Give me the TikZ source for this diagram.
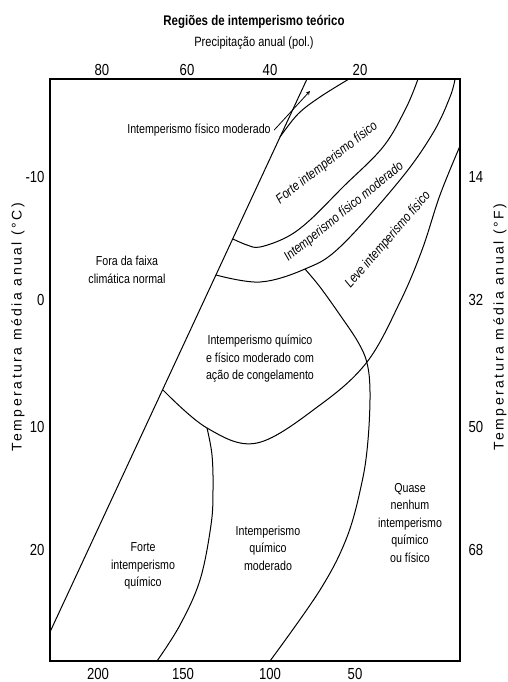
\documentclass[tikz,border=0pt]{standalone}
\usepackage{fontspec}
\setmainfont{Liberation Sans}[FakeStretch=0.82]
\newfontfamily\axisfont{Liberation Sans}[LetterSpace=18]
\usepackage{tikz}

\tikzset{
  region/.style={align=center, font=\fontsize{13}{17.5}\selectfont},
  band/.style={font=\fontsize{13.5}{15}\selectfont\itshape},
  tick/.style={font=\fontsize{16}{18}\selectfont},
  axislabel/.style={rotate=90, font=\axisfont\fontsize{14}{16}\selectfont},
  curve/.style={line width=1pt},
}

\begin{document}
\begin{tikzpicture}[x=1pt,y=-1pt]
  \useasboundingbox (0,0) rectangle (507,682);

  % --- Titles ---
  \node[font=\fontsize{14}{16}\selectfont\bfseries, anchor=base] (title) at (254,26) {Regiões de intemperismo teórico};
  \node[font=\fontsize{13.5}{16}\selectfont, anchor=base] (precip) at (254,47) {Precipitação anual (pol.)};

  % --- Frame ---
  \draw[line width=1.6pt] (50,79) rectangle (460,661);

  % --- Tick labels (top and bottom) ---
  \node[tick, anchor=base] (p80) at (102,76) {80};
  \node[tick, anchor=base] (p60) at (187,76) {60};
  \node[tick, anchor=base] (p40) at (270,76) {40};
  \node[tick, anchor=base] (p20) at (360,76) {20};
  \node[tick, anchor=base] (p200) at (98,679) {200};
  \node[tick, anchor=base] (p150) at (183,679) {150};
  \node[tick, anchor=base] (p100) at (270,679) {100};
  \node[tick, anchor=base] (p50) at (355,679) {50};

  % --- Tick labels (left and right) ---
  \node[tick, anchor=east] (cm10) at (48,177) {-10};
  \node[tick, anchor=east] (c0) at (48,300) {0};
  \node[tick, anchor=east] (c10) at (48,427) {10};
  \node[tick, anchor=east] (c20) at (48,550) {20};
  \node[tick, anchor=west] (f14) at (465,177) {14};
  \node[tick, anchor=west] (f32) at (465,300) {32};
  \node[tick, anchor=west] (f50) at (465,427) {50};
  \node[tick, anchor=west] (f68) at (465,550) {68};

  % --- Axis labels ---
  \node[axislabel] (tempC) at (18,327) {Temperatura média anual (°C)};
  \node[axislabel] (tempF) at (500,327) {Temperatura média anual (°F)};

  % --- Boundary of normal climate (straight line) ---
  \draw[curve] (307,79) -- (50,632);

  % --- Region boundaries (manual curves) ---
  \draw[curve] plot[smooth, tension=0.6] coordinates {(280,137) (298,114) (320,97) (349,79)};
  \draw[curve] plot[smooth, tension=0.6] coordinates
    {(233,239) (247,245) (260,247) (287,237) (310,220) (343,187) (383,147) (406,108) (418,79)};
  \draw[curve] plot[smooth, tension=0.6] coordinates
    {(216,275) (260,282) (305,269) (340,247) (400,180) (433,133) (450,97) (455,79)};
  \draw[curve] plot[smooth, tension=0.6] coordinates
    {(460,146) (440,195) (422,250) (400,302) (367,362) (320,405) (257,443) (207,428) (163,390)};
  \draw[curve] plot[smooth, tension=0.6] coordinates
    {(305,269) (320,287) (340,315) (358,342) (367,363) (370,392) (368,440) (362,482) (347,537) (320,590) (270,661)};
  \draw[curve] plot[smooth, tension=0.6] coordinates
    {(207,428) (212,455) (213,490) (211,525) (200,580) (180,625) (157,661)};

  % --- Arrow label ---
  \node[font=\fontsize{13}{15}\selectfont] (physmod) at (199,130) {Intemperismo físico moderado};
  \coordinate (phystip) at (310,91);
  \draw[line width=0.8pt, -stealth] (physmod.east) -- (phystip);

  % --- Rotated band labels ---
  \node[band, rotate=38] (strongphys) at (327,163) {Forte intemperismo físico};
  \node[band, rotate=39] (modphys) at (344,212) {Intemperismo físico moderado};
  \node[band, rotate=49] (lightphys) at (388,240) {Leve intemperismo físico};

  % --- Region labels ---
  \node[region] (outside) at (127,270) {Fora da faixa\\climática normal};
  \node[region] (frost) at (260,359) {Intemperismo químico\\e físico moderado com\\ação de congelamento};
  \node[region] (strongchem) at (143,566) {Forte\\intemperismo\\químico};
  \node[region] (modchem) at (268,548) {Intemperismo\\químico\\moderado};
  \node[region] (none) at (410,523) {Quase\\nenhum\\intemperismo\\químico\\ou físico};

\end{tikzpicture}
\end{document}
